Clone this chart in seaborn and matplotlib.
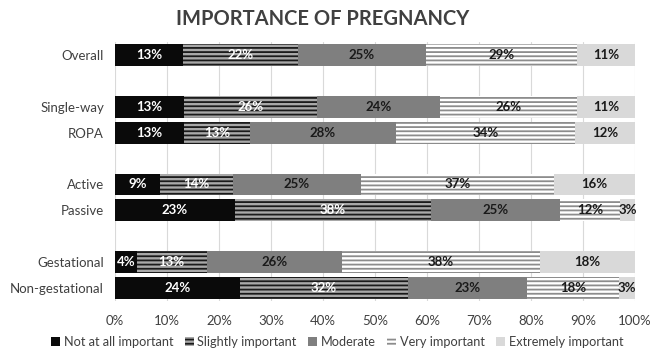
import matplotlib.pyplot as plt
import matplotlib.patches as mpatches
import numpy as np
import pandas as pd
import seaborn as sns

# rows as shown top to bottom; blank names are the spacer slots
GROUPS = ["Overall", " ", "Single-way", "ROPA", "  ", "Active", "Passive",
          "   ", "Gestational", "Non-gestational"]
ROWS = ["Overall", "Single-way", "ROPA", "Active", "Passive",
        "Gestational", "Non-gestational"]
LEVELS = ["Not at all important", "Slightly important", "Moderate",
          "Very important", "Extremely important"]

not_at_all = [13.1, 13.3, 13.3, 8.6, 23.0, 4.2, 24.0]
slightly = [22.0, 25.6, 12.7, 14.1, 37.8, 13.4, 32.3]
moderate = [24.7, 23.6, 28.0, 24.6, 24.7, 26.0, 22.9]
very = [29.1, 26.3, 34.4, 37.1, 11.6, 38.1, 17.8]
extremely = [11.1, 11.2, 11.6, 15.6, 2.9, 18.3, 3.0]

styles = {
    "Not at all important": dict(color="#0a0a0a", edgecolor="#0a0a0a", hatch=None, text="white"),
    "Slightly important": dict(color="#a8a8a8", edgecolor="#1a1a1a", hatch="----", text="white"),
    "Moderate": dict(color="#7f7f7f", edgecolor="#7f7f7f", hatch=None, text="#1a1a1a"),
    "Very important": dict(color="white", edgecolor="#8c8c8c", hatch="----", text="#1a1a1a"),
    "Extremely important": dict(color="#d9d9d9", edgecolor="#d9d9d9", hatch=None, text="#1a1a1a"),
}

df = pd.DataFrame({"row": ROWS}).assign(**dict(zip(LEVELS, [not_at_all, slightly, moderate, very, extremely])))
cum = df[LEVELS].cumsum(axis=1)

sns.set_style("white")
plt.rcParams["font.family"] = ["Lato", "DejaVu Sans"]
plt.rcParams["hatch.linewidth"] = 1.3

fig, ax = plt.subplots(figsize=(6.55, 3.59), dpi=100)
fig.subplots_adjust(left=0.1756, right=0.9695, top=0.883, bottom=0.1616)

# stacked bars: draw cumulative totals, widest first
for level in LEVELS[::-1]:
    st = styles[level]
    sns.barplot(x=cum[level], y=df["row"], order=GROUPS, orient="h",
                color=st["color"], edgecolor=st["edgecolor"], hatch=st["hatch"],
                linewidth=0, width=0.84, saturation=1, ax=ax, zorder=2)

ypos = {g: i for i, g in enumerate(GROUPS)}
for level in LEVELS:
    st = styles[level]
    for r, v, c in zip(df["row"], df[level], cum[level]):
        ax.text(c - v / 2, ypos[r], f"{round(v)}%", ha="center", va="center",
                fontsize=9.5, fontweight="bold", color=st["text"], zorder=5)

ax.set_xlim(0, 100)
ax.set_ylim(len(GROUPS) - 0.5, -0.5)
ax.set_xticks(np.arange(0, 101, 10))
ax.set_xticklabels([f"{t}%" for t in range(0, 101, 10)])
ax.xaxis.grid(True, color="#d9d9d9", linewidth=0.8, zorder=0)
ax.set_axisbelow(True)
ax.set_xlabel("")
ax.set_ylabel("")
ax.tick_params(axis="both", length=0, labelsize=9.5, labelcolor="#404040")
ax.tick_params(axis="x", pad=10)
ax.tick_params(axis="y", pad=8)
sns.despine(ax=ax, left=True, bottom=True)

ax.set_title("IMPORTANCE OF PREGNANCY", fontsize=14.5, fontweight="bold",
             color="#404040", pad=12, x=0.4)

handles = [mpatches.Patch(facecolor=styles[l]["color"], edgecolor=styles[l]["edgecolor"],
                          hatch=styles[l]["hatch"], linewidth=0, label=l) for l in LEVELS]
fig.legend(handles=handles, loc="lower center", bbox_to_anchor=(0.515, 0.0), ncol=5,
           frameon=False, fontsize=9.2, handlelength=0.7, handleheight=0.7,
           handletextpad=0.3, columnspacing=0.9, labelcolor="#404040")

fig.savefig("out.png", dpi=100)
